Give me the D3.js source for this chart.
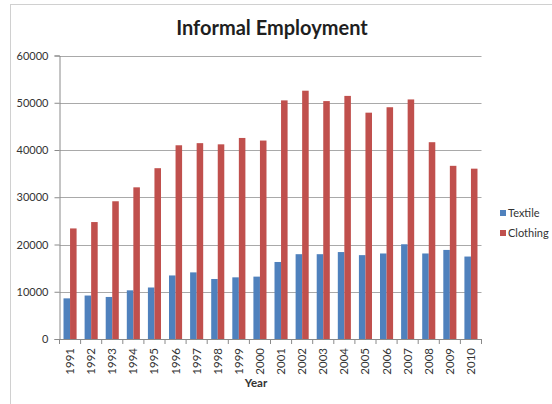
<!DOCTYPE html>
<html>
<head>
<meta charset="utf-8">
<script src="https://cdn.jsdelivr.net/npm/d3@7"></script>
<style>
  html, body { margin: 0; padding: 0; background: #fff; }
  svg { display: block; font-family: Lato, "Open Sans", sans-serif; }
</style>
</head>
<body>
<svg id="chart" width="552" height="404"></svg>
<script>
// Informal employment by year, textile vs clothing
const years = ["1991","1992","1993","1994","1995","1996","1997","1998","1999","2000",
               "2001","2002","2003","2004","2005","2006","2007","2008","2009","2010"];
const textile  = [8600, 9200, 8900, 10300, 10900, 13450, 14100, 12700, 13050, 13200,
                  16300, 17950, 17950, 18400, 17750, 18100, 20050, 18100, 18850, 17450];
const clothing = [23400, 24750, 29150, 32100, 36150, 41000, 41450, 41200, 42550, 42000,
                  50500, 52550, 50350, 51450, 47900, 49050, 50700, 41650, 36650, 36050];
const seriesNames = ["Textile", "Clothing"];
const seriesColors = ["#4F81BD", "#C0504D"];
const yTicks = [0, 10000, 20000, 30000, 40000, 50000, 60000];

const rows = years.map((yr, i) => ({ year: yr, values: [textile[i], clothing[i]] }));

const svg = d3.select("#chart");
const plot = { left: 59.5, right: 481.5, top: 55.5, bottom: 339 };

// outer chart frame
svg.append("rect")
  .attr("x", 10.5).attr("y", 4.5).attr("width", 600).attr("height", 440)
  .attr("fill", "none").attr("stroke", "#d0d0d0").attr("stroke-width", 1);

const x = d3.scaleBand().domain(years).range([plot.left, plot.right]).paddingInner(0).paddingOuter(0);
const bw = x.bandwidth();
const x1 = d3.scaleBand().domain([0, 1]).range([bw * 0.19, bw * 0.81]);
const y = d3.scaleLinear().domain([0, 60000]).range([plot.bottom, plot.top]);

// gridlines
svg.append("g").selectAll("line")
  .data(yTicks.filter(t => t > 0))
  .join("line")
  .attr("x1", plot.left).attr("x2", plot.right)
  .attr("y1", d => Math.round(y(d)) + 0.5).attr("y2", d => Math.round(y(d)) + 0.5)
  .attr("stroke", "#a9a9a9").attr("stroke-width", 1);

// bars
const groups = svg.append("g").selectAll("g")
  .data(rows).join("g")
  .attr("transform", d => `translate(${x(d.year)},0)`);
groups.selectAll("rect")
  .data(d => d.values.map((v, k) => ({ k, v })))
  .join("rect")
  .attr("x", d => x1(d.k))
  .attr("width", x1.bandwidth())
  .attr("y", d => y(d.v))
  .attr("height", d => y(0) - y(d.v))
  .attr("fill", d => seriesColors[d.k]);

// y axis
const yAxis = svg.append("g")
  .attr("transform", `translate(${plot.left},0)`)
  .call(d3.axisLeft(y).tickValues(yTicks).tickSize(5).tickPadding(6).tickFormat(d3.format("d")));
yAxis.select(".domain").attr("stroke", "#8a8a8a");
yAxis.selectAll(".tick line").attr("stroke", "#8a8a8a");
yAxis.selectAll("text").attr("font-size", 11).attr("fill", "#333")
  .attr("font-family", "Lato, sans-serif");

// x axis with ticks at category boundaries
const xAxisG = svg.append("g").attr("transform", `translate(0,${plot.bottom})`);
xAxisG.append("line").attr("x1", plot.left).attr("x2", plot.right).attr("y1", 0.5).attr("y2", 0.5)
  .attr("stroke", "#8a8a8a");
xAxisG.selectAll("line.tk")
  .data(years.concat(["end"]))
  .join("line").attr("class", "tk")
  .attr("x1", (d, i) => plot.left + i * bw).attr("x2", (d, i) => plot.left + i * bw)
  .attr("y1", 0).attr("y2", 5)
  .attr("stroke", "#8a8a8a");
xAxisG.selectAll("text")
  .data(years)
  .join("text")
  .attr("transform", d => `translate(${x(d) + bw / 2},9) rotate(-90)`)
  .attr("text-anchor", "end")
  .attr("dy", "0.35em")
  .attr("font-size", 11.5)
  .attr("fill", "#333")
  .text(d => d);

// axis title
svg.append("text")
  .attr("x", 256).attr("y", 387)
  .attr("text-anchor", "middle")
  .attr("font-size", 11.5).attr("font-weight", "bold").attr("fill", "#333")
  .text("Year");

// chart title
svg.append("text")
  .attr("x", 272).attr("y", 35)
  .attr("text-anchor", "middle")
  .attr("font-size", 20).attr("font-weight", "bold").attr("fill", "#1f1f1f")
  .text("Informal Employment");

// legend
const legend = svg.append("g").selectAll("g")
  .data(seriesNames).join("g")
  .attr("transform", (d, i) => `translate(500,${213 + i * 20})`);
legend.append("rect")
  .attr("x", 0).attr("y", -3).attr("width", 6).attr("height", 6)
  .attr("fill", (d, i) => seriesColors[i]);
legend.append("text")
  .attr("x", 8).attr("dy", "0.35em")
  .attr("font-size", 11).attr("fill", "#333")
  .text(d => d);
</script>
</body>
</html>
